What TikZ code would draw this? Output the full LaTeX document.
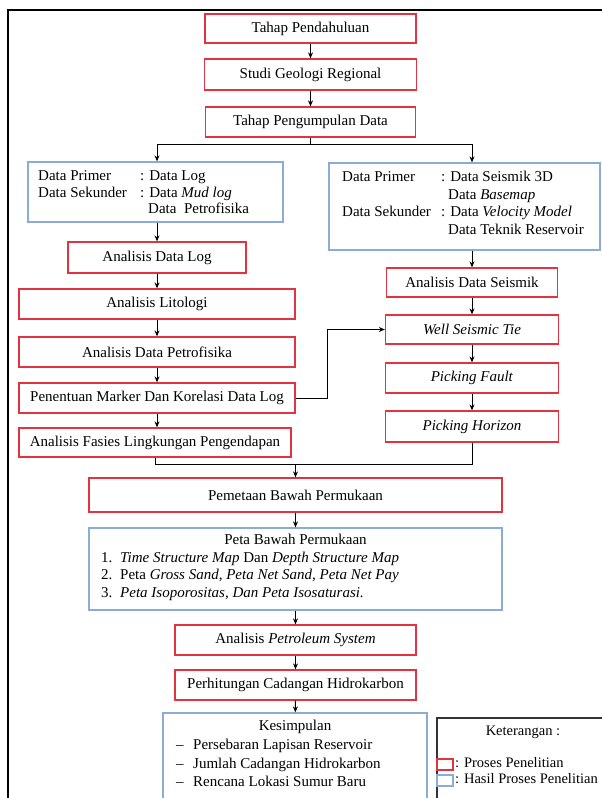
\documentclass[tikz,border=0pt]{standalone}
\usepackage{fontspec}
\setmainfont{Liberation Serif}
\usetikzlibrary{arrows.meta}
\definecolor{redb}{RGB}{226,52,64}
\definecolor{blueb}{RGB}{140,172,216}
\begin{document}
\begin{tikzpicture}[x=1pt,y=-1pt,
 font=\fontsize{15}{17}\selectfont,
 proc/.style={draw=redb,line width=1.3pt,inner sep=0pt,minimum height=30pt,fill=white},
 res/.style={draw=blueb,line width=1.3pt,inner sep=0pt},
 arr/.style={line width=1pt,-{Stealth[length=6pt,width=5pt]}},
 ln/.style={line width=1pt},
 txt/.style={inner sep=0pt,anchor=mid west},
 ctxt/.style={inner sep=0pt,anchor=mid},
 legfont/.style={font=\fontsize{14.5}{17}\selectfont}]
\useasboundingbox (0,0) rectangle (602,798);
\clip (0,0) rectangle (602,798);
% outer frame
\draw[line width=2.2pt] (8,820) -- (8,10) -- (620,10);

% top chain
\node[proc,minimum width=211pt,minimum height=29pt] (t1) at (310.5,28.5) {Tahap Pendahuluan};
\node[proc,minimum width=212pt,minimum height=31pt] (t2) at (310.5,74.5) {Studi Geologi Regional};
\node[proc,minimum width=210pt] (t3) at (310.5,122) {Tahap Pengumpulan Data};

% data boxes
\node[res,minimum width=255pt,minimum height=60pt] (L) at (155.5,192) {};
\node[txt] (l1a) at (38,178) {Data Primer};
\node[txt] (l1b) at (140,178) {: Data Log};
\node[txt] (l2a) at (38,195) {Data Sekunder};
\node[txt] (l2b) at (140,195) {: Data \textit{Mud log}};
\node[txt] (l3b) at (148,211) {Data\ \ Petrofisika};

\node[res,minimum width=271pt,minimum height=87pt] (R) at (464.5,206.5) {};
\node[txt] (r1a) at (342,179) {Data Primer};
\node[txt] (r1b) at (441,179) {: Data Seismik 3D};
\node[txt] (r2b) at (448,197) {Data \textit{Basemap}};
\node[txt] (r3a) at (342,214) {Data Sekunder};
\node[txt] (r3b) at (441,214) {: Data \textit{Velocity Model}};
\node[txt] (r4b) at (448,232) {Data Teknik Reservoir};

% left column
\node[proc,minimum width=178pt,minimum height=31pt] (a1) at (157,257.5) {Analisis Data Log};
\node[proc,minimum width=276pt] (a2) at (157,304) {Analisis Litologi};
\node[proc,minimum width=276pt] (a3) at (157,352) {Analisis Data Petrofisika};
\node[proc,minimum width=276pt] (a4) at (157,398) {Penentuan Marker Dan Korelasi Data Log};
\node[proc,minimum width=272pt,minimum height=29pt] (a5) at (155,442.5) {Analisis Fasies Lingkungan Pengendapan};

% right column
\node[proc,minimum width=171pt,minimum height=29pt] (s1) at (472,282.5) {Analisis Data Seismik};
\node[proc,minimum width=173pt,minimum height=29pt] (s2) at (472,329.5) {\textit{Well Seismic Tie}};
\node[proc,minimum width=173pt,minimum height=30pt] (s3) at (472,378) {\textit{Picking Fault}};
\node[proc,minimum width=173pt,minimum height=31pt] (s4) at (472,426.5) {\textit{Picking Horizon}};

% lower chain
\node[proc,minimum width=413pt,minimum height=34pt] (p1) at (295.5,495) {Pemetaan Bawah Permukaan};
\node[res,minimum width=413pt,minimum height=82pt] (p2) at (295.5,569) {};
\node[ctxt] (pt) at (295.5,542) {Peta Bawah Permukaan};
\node[txt] (pn1) at (101,560) {1.};
\node[txt] (pl1) at (120,560) {\textit{Time Structure Map} Dan \textit{Depth Structure Map}};
\node[txt] (pn2) at (101,577) {2.};
\node[txt] (pl2) at (120,577) {Peta \textit{Gross Sand, Peta Net Sand, Peta Net Pay}};
\node[txt] (pn3) at (101,595) {3.};
\node[txt] (pl3) at (120,595) {\textit{Peta Isoporositas, Dan Peta Isosaturasi.}};

\node[proc,minimum width=241pt,minimum height=30pt] (q1) at (295.5,640) {Analisis \textit{Petroleum System}};
\node[proc,minimum width=241pt,minimum height=30pt] (q2) at (295.5,685) {Perhitungan Cadangan Hidrokarbon};

\node[res,minimum width=264pt,minimum height=102pt] (K) at (295,764) {};
\node[ctxt] (kt) at (295,728) {Kesimpulan};
\node[txt] (kd1) at (176,747) {--};
\node[txt] (k1) at (193,747) {Persebaran Lapisan Reservoir};
\node[txt] (kd2) at (176,766) {--};
\node[txt] (k2) at (193,766) {Jumlah Cadangan Hidrokarbon};
\node[txt] (kd3) at (176,784) {--};
\node[txt] (k3) at (193,784) {Rencana Lokasi Sumur Baru};

% legend
\node[draw=black!80,line width=1.8pt,inner sep=0pt,minimum width=178pt,minimum height=100pt] (leg) at (526,768) {};
\node[ctxt,legfont] (lgt) at (523,733) {Keterangan :};
\node[draw=redb,line width=1.3pt,inner sep=0pt,minimum width=16pt,minimum height=11pt] (lr) at (445,764.5) {};
\node[txt,legfont] (lrt) at (455,765) {: Proses Penelitian};
\node[draw=blueb,line width=1.3pt,inner sep=0pt,minimum width=16pt,minimum height=11pt] (lb) at (445,780.5) {};
\node[txt,legfont] (lbt) at (455,781) {: Hasil Proses Penelitian};

% connectors
\draw[arr] (t1) -- (t2);
\draw[arr] (t2) -- (t3);
\coordinate (br) at (310.5,144);
\draw[ln] (t3) -- (br);
\draw[arr] (br) -| (L.north -| a1);
\draw[arr] (br) -| (R.north -| s1);
\draw[arr] (L.south -| a1) -- (a1);
\draw[arr] (R.south -| s1) -- (s1);
\draw[arr] (a1) -- (a2);
\draw[arr] (a2) -- (a3);
\draw[arr] (a3) -- (a4);
\draw[arr] (a4.south) -- (a4.south |- a5.north);
\draw[arr] (s1) -- (s2);
\draw[arr] (s2) -- (s3);
\draw[arr] (s3) -- (s4);
\coordinate (bend) at (327,398);
\draw[arr] (a4.east) -- (bend) |- (s2.west);
\coordinate (m) at (295.5,464);
\draw[ln] (a5.south) |- (m);
\draw[ln] (s4.south) |- (m);
\draw[arr] (m) -- (p1);
\draw[arr] (p1) -- (p2);
\draw[arr] (p2) -- (q1);
\draw[arr] (q1) -- (q2);
\draw[arr] (q2) -- (K);
\end{tikzpicture}
\end{document}
